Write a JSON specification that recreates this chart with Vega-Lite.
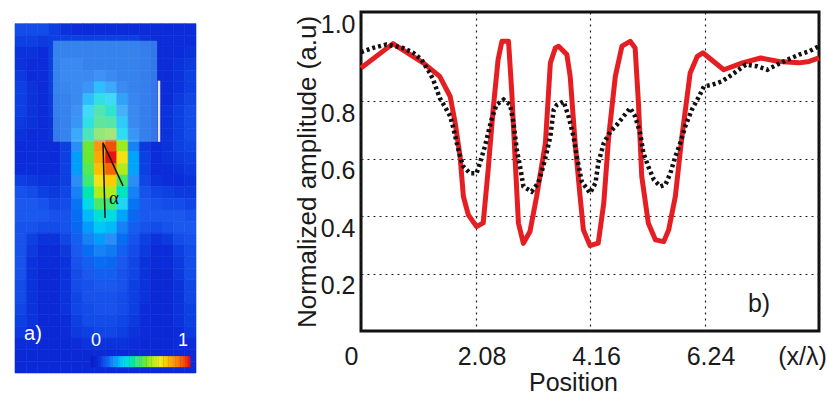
{
  "$schema": "https://vega.github.io/schema/vega-lite/v6.json",
  "background": "white",
  "padding": {"left": 14, "top": 10, "right": 0, "bottom": 0},
  "spacing": 95,
  "datasets": {
    "field": [
      {"r": 0, "c": [0,1,2,3,4,5,6,7,8,9,10,11,12,13,14,15], "v": [0.12,0.12,0.12,0.1,0.08,0.07,0.07,0.07,0.07,0.07,0.07,0.07,0.07,0.07,0.07,0.07]},
      {"r": 1, "c": [0,1,2,3,4,5,6,7,8,9,10,11,12,13,14,15], "v": [0.1,0.1,0.09,0.1,0.1,0.1,0.1,0.1,0.1,0.1,0.1,0.08,0.07,0.07,0.07,0.07]},
      {"r": 2, "c": [0,1,2,3,4,5,6,7,8,9,10,11,12,13,14,15], "v": [0.08,0.08,0.07,0.1,0.1,0.1,0.1,0.1,0.1,0.1,0.1,0.09,0.07,0.07,0.07,0.08]},
      {"r": 3, "c": [0,1,2,3,4,5,6,7,8,9,10,11,12,13,14,15], "v": [0.08,0.07,0.07,0.1,0.12,0.12,0.1,0.1,0.1,0.1,0.1,0.09,0.07,0.07,0.08,0.09]},
      {"r": 4, "c": [0,1,2,3,4,5,6,7,8,9,10,11,12,13,14,15], "v": [0.09,0.07,0.07,0.1,0.12,0.12,0.12,0.14,0.12,0.1,0.1,0.09,0.07,0.07,0.08,0.1]},
      {"r": 5, "c": [0,1,2,3,4,5,6,7,8,9,10,11,12,13,14,15], "v": [0.1,0.08,0.07,0.1,0.11,0.12,0.15,0.25,0.2,0.12,0.1,0.09,0.07,0.07,0.08,0.1]},
      {"r": 6, "c": [0,1,2,3,4,5,6,7,8,9,10,11,12,13,14,15], "v": [0.1,0.08,0.07,0.09,0.1,0.12,0.25,0.38,0.32,0.18,0.11,0.09,0.07,0.07,0.09,0.11]},
      {"r": 7, "c": [0,1,2,3,4,5,6,7,8,9,10,11,12,13,14,15], "v": [0.1,0.08,0.07,0.09,0.1,0.14,0.32,0.48,0.42,0.22,0.12,0.09,0.07,0.08,0.1,0.12]},
      {"r": 8, "c": [0,1,2,3,4,5,6,7,8,9,10,11,12,13,14,15], "v": [0.09,0.08,0.07,0.08,0.1,0.15,0.38,0.52,0.5,0.28,0.12,0.09,0.07,0.08,0.1,0.12]},
      {"r": 9, "c": [0,1,2,3,4,5,6,7,8,9,10,11,12,13,14,15], "v": [0.08,0.07,0.07,0.08,0.1,0.2,0.45,0.62,0.65,0.35,0.15,0.09,0.07,0.08,0.1,0.12]},
      {"r": 10, "c": [0,1,2,3,4,5,6,7,8,9,10,11,12,13,14,15], "v": [0.07,0.07,0.07,0.07,0.1,0.22,0.55,0.85,0.95,0.6,0.2,0.09,0.07,0.08,0.1,0.11]},
      {"r": 11, "c": [0,1,2,3,4,5,6,7,8,9,10,11,12,13,14,15], "v": [0.07,0.07,0.07,0.07,0.1,0.24,0.55,0.82,1.0,0.72,0.25,0.1,0.07,0.08,0.09,0.1]},
      {"r": 12, "c": [0,1,2,3,4,5,6,7,8,9,10,11,12,13,14,15], "v": [0.07,0.07,0.07,0.07,0.1,0.24,0.52,0.78,0.92,0.62,0.25,0.1,0.07,0.07,0.08,0.09]},
      {"r": 13, "c": [0,1,2,3,4,5,6,7,8,9,10,11,12,13,14,15], "v": [0.1,0.09,0.08,0.08,0.1,0.22,0.48,0.72,0.76,0.5,0.22,0.11,0.08,0.07,0.07,0.08]},
      {"r": 14, "c": [0,1,2,3,4,5,6,7,8,9,10,11,12,13,14,15], "v": [0.13,0.12,0.1,0.09,0.11,0.2,0.42,0.62,0.62,0.4,0.2,0.13,0.11,0.1,0.09,0.09]},
      {"r": 15, "c": [0,1,2,3,4,5,6,7,8,9,10,11,12,13,14,15], "v": [0.14,0.14,0.13,0.11,0.12,0.18,0.35,0.5,0.48,0.32,0.18,0.14,0.13,0.12,0.12,0.11]},
      {"r": 16, "c": [0,1,2,3,4,5,6,7,8,9,10,11,12,13,14,15], "v": [0.14,0.14,0.14,0.13,0.13,0.17,0.28,0.38,0.36,0.25,0.16,0.14,0.14,0.14,0.14,0.13]},
      {"r": 17, "c": [0,1,2,3,4,5,6,7,8,9,10,11,12,13,14,15], "v": [0.13,0.13,0.12,0.12,0.13,0.16,0.24,0.3,0.28,0.2,0.15,0.13,0.12,0.13,0.14,0.14]},
      {"r": 18, "c": [0,1,2,3,4,5,6,7,8,9,10,11,12,13,14,15], "v": [0.13,0.1,0.08,0.08,0.11,0.15,0.2,0.24,0.22,0.17,0.13,0.1,0.08,0.09,0.12,0.13]},
      {"r": 19, "c": [0,1,2,3,4,5,6,7,8,9,10,11,12,13,14,15], "v": [0.13,0.09,0.07,0.07,0.09,0.14,0.17,0.2,0.19,0.15,0.12,0.09,0.07,0.07,0.1,0.12]},
      {"r": 20, "c": [0,1,2,3,4,5,6,7,8,9,10,11,12,13,14,15], "v": [0.13,0.08,0.07,0.07,0.08,0.13,0.15,0.17,0.16,0.14,0.11,0.08,0.07,0.07,0.09,0.12]},
      {"r": 21, "c": [0,1,2,3,4,5,6,7,8,9,10,11,12,13,14,15], "v": [0.13,0.08,0.06,0.06,0.08,0.12,0.14,0.15,0.15,0.13,0.11,0.08,0.06,0.06,0.09,0.12]},
      {"r": 22, "c": [0,1,2,3,4,5,6,7,8,9,10,11,12,13,14,15], "v": [0.12,0.08,0.06,0.06,0.08,0.12,0.13,0.14,0.14,0.13,0.1,0.08,0.06,0.06,0.08,0.11]},
      {"r": 23, "c": [0,1,2,3,4,5,6,7,8,9,10,11,12,13,14,15], "v": [0.12,0.08,0.06,0.06,0.08,0.11,0.13,0.13,0.13,0.12,0.1,0.08,0.06,0.06,0.08,0.11]},
      {"r": 24, "c": [0,1,2,3,4,5,6,7,8,9,10,11,12,13,14,15], "v": [0.11,0.08,0.06,0.06,0.08,0.11,0.12,0.13,0.13,0.12,0.1,0.07,0.06,0.06,0.08,0.1]},
      {"r": 25, "c": [0,1,2,3,4,5,6,7,8,9,10,11,12,13,14,15], "v": [0.1,0.08,0.06,0.06,0.07,0.1,0.12,0.12,0.12,0.11,0.09,0.07,0.06,0.06,0.08,0.1]},
      {"r": 26, "c": [0,1,2,3,4,5,6,7,8,9,10,11,12,13,14,15], "v": [0.09,0.07,0.06,0.06,0.07,0.09,0.1,0.11,0.11,0.1,0.08,0.07,0.06,0.06,0.07,0.09]},
      {"r": 27, "c": [0,1,2,3,4,5,6,7,8,9,10,11,12,13,14,15], "v": [0.07,0.07,0.06,0.06,0.06,0.07,0.08,0.08,0.08,0.08,0.07,0.06,0.06,0.06,0.07,0.07]},
      {"r": 28, "c": [0,1,2,3,4,5,6,7,8,9,10,11,12,13,14,15], "v": [0.06,0.06,0.06,0.06,0.06,0.06,0.06,0.06,0.06,0.06,0.06,0.06,0.06,0.06,0.06,0.06]},
      {"r": 29, "c": [0,1,2,3,4,5,6,7,8,9,10,11,12,13,14,15], "v": [0.06,0.06,0.06,0.06,0.06,0.06,0.06,0.06,0.06,0.06,0.06,0.06,0.06,0.06,0.06,0.06]}
    ],
    "profile": [
      {"s": "sim", "x": 0, "a": 0.915}, {"s": "sim", "x": 0.58, "a": 1.0}, {"s": "sim", "x": 1.13, "a": 0.933},
      {"s": "sim", "x": 1.43, "a": 0.886}, {"s": "sim", "x": 1.62, "a": 0.816}, {"s": "sim", "x": 1.71, "a": 0.725},
      {"s": "sim", "x": 1.8, "a": 0.607}, {"s": "sim", "x": 1.86, "a": 0.468}, {"s": "sim", "x": 1.95, "a": 0.404},
      {"s": "sim", "x": 2.1, "a": 0.363}, {"s": "sim", "x": 2.22, "a": 0.376}, {"s": "sim", "x": 2.31, "a": 0.561},
      {"s": "sim", "x": 2.4, "a": 0.77}, {"s": "sim", "x": 2.49, "a": 0.944}, {"s": "sim", "x": 2.56, "a": 1.008},
      {"s": "sim", "x": 2.68, "a": 1.008}, {"s": "sim", "x": 2.74, "a": 0.828}, {"s": "sim", "x": 2.8, "a": 0.596},
      {"s": "sim", "x": 2.86, "a": 0.375}, {"s": "sim", "x": 2.95, "a": 0.305}, {"s": "sim", "x": 3.07, "a": 0.346},
      {"s": "sim", "x": 3.19, "a": 0.468}, {"s": "sim", "x": 3.35, "a": 0.654}, {"s": "sim", "x": 3.44, "a": 0.933},
      {"s": "sim", "x": 3.53, "a": 0.985}, {"s": "sim", "x": 3.59, "a": 0.991}, {"s": "sim", "x": 3.74, "a": 0.962},
      {"s": "sim", "x": 3.8, "a": 0.886}, {"s": "sim", "x": 3.89, "a": 0.654}, {"s": "sim", "x": 3.98, "a": 0.468},
      {"s": "sim", "x": 4.04, "a": 0.352}, {"s": "sim", "x": 4.16, "a": 0.297}, {"s": "sim", "x": 4.31, "a": 0.306},
      {"s": "sim", "x": 4.41, "a": 0.445}, {"s": "sim", "x": 4.5, "a": 0.677}, {"s": "sim", "x": 4.62, "a": 0.886},
      {"s": "sim", "x": 4.74, "a": 0.991}, {"s": "sim", "x": 4.89, "a": 1.008}, {"s": "sim", "x": 4.98, "a": 0.985},
      {"s": "sim", "x": 5.04, "a": 0.793}, {"s": "sim", "x": 5.1, "a": 0.538}, {"s": "sim", "x": 5.22, "a": 0.375},
      {"s": "sim", "x": 5.35, "a": 0.317}, {"s": "sim", "x": 5.5, "a": 0.311}, {"s": "sim", "x": 5.59, "a": 0.352},
      {"s": "sim", "x": 5.71, "a": 0.468}, {"s": "sim", "x": 5.83, "a": 0.677}, {"s": "sim", "x": 5.98, "a": 0.898},
      {"s": "sim", "x": 6.11, "a": 0.956}, {"s": "sim", "x": 6.21, "a": 0.968}, {"s": "sim", "x": 6.59, "a": 0.909},
      {"s": "sim", "x": 6.93, "a": 0.933}, {"s": "sim", "x": 7.26, "a": 0.95}, {"s": "sim", "x": 7.59, "a": 0.938},
      {"s": "sim", "x": 7.96, "a": 0.933}, {"s": "sim", "x": 8.14, "a": 0.938}, {"s": "sim", "x": 8.32, "a": 0.95},
      {"s": "exp", "x": 0, "a": 0.97}, {"s": "exp", "x": 0.22, "a": 0.985}, {"s": "exp", "x": 0.46, "a": 0.997},
      {"s": "exp", "x": 0.76, "a": 0.985}, {"s": "exp", "x": 0.95, "a": 0.968}, {"s": "exp", "x": 1.1, "a": 0.944},
      {"s": "exp", "x": 1.25, "a": 0.898}, {"s": "exp", "x": 1.31, "a": 0.875}, {"s": "exp", "x": 1.43, "a": 0.811},
      {"s": "exp", "x": 1.52, "a": 0.782}, {"s": "exp", "x": 1.62, "a": 0.747}, {"s": "exp", "x": 1.67, "a": 0.712},
      {"s": "exp", "x": 1.74, "a": 0.654}, {"s": "exp", "x": 1.8, "a": 0.607}, {"s": "exp", "x": 1.86, "a": 0.572},
      {"s": "exp", "x": 1.98, "a": 0.549}, {"s": "exp", "x": 2.1, "a": 0.549}, {"s": "exp", "x": 2.16, "a": 0.584},
      {"s": "exp", "x": 2.25, "a": 0.642}, {"s": "exp", "x": 2.31, "a": 0.689}, {"s": "exp", "x": 2.37, "a": 0.735},
      {"s": "exp", "x": 2.46, "a": 0.787}, {"s": "exp", "x": 2.59, "a": 0.805}, {"s": "exp", "x": 2.71, "a": 0.787},
      {"s": "exp", "x": 2.77, "a": 0.724}, {"s": "exp", "x": 2.8, "a": 0.677}, {"s": "exp", "x": 2.83, "a": 0.631},
      {"s": "exp", "x": 2.89, "a": 0.572}, {"s": "exp", "x": 2.95, "a": 0.503}, {"s": "exp", "x": 3.1, "a": 0.485},
      {"s": "exp", "x": 3.22, "a": 0.515}, {"s": "exp", "x": 3.31, "a": 0.572}, {"s": "exp", "x": 3.37, "a": 0.619},
      {"s": "exp", "x": 3.44, "a": 0.677}, {"s": "exp", "x": 3.5, "a": 0.77}, {"s": "exp", "x": 3.56, "a": 0.787},
      {"s": "exp", "x": 3.68, "a": 0.799}, {"s": "exp", "x": 3.77, "a": 0.747}, {"s": "exp", "x": 3.86, "a": 0.677},
      {"s": "exp", "x": 3.92, "a": 0.607}, {"s": "exp", "x": 4.01, "a": 0.52}, {"s": "exp", "x": 4.16, "a": 0.48},
      {"s": "exp", "x": 4.26, "a": 0.515}, {"s": "exp", "x": 4.31, "a": 0.584}, {"s": "exp", "x": 4.41, "a": 0.654},
      {"s": "exp", "x": 4.53, "a": 0.694}, {"s": "exp", "x": 4.65, "a": 0.718}, {"s": "exp", "x": 4.77, "a": 0.747},
      {"s": "exp", "x": 4.89, "a": 0.776}, {"s": "exp", "x": 4.98, "a": 0.747}, {"s": "exp", "x": 5.07, "a": 0.689},
      {"s": "exp", "x": 5.13, "a": 0.619}, {"s": "exp", "x": 5.22, "a": 0.572}, {"s": "exp", "x": 5.32, "a": 0.526},
      {"s": "exp", "x": 5.44, "a": 0.503}, {"s": "exp", "x": 5.53, "a": 0.509}, {"s": "exp", "x": 5.62, "a": 0.549},
      {"s": "exp", "x": 5.71, "a": 0.607}, {"s": "exp", "x": 5.8, "a": 0.654}, {"s": "exp", "x": 5.89, "a": 0.712},
      {"s": "exp", "x": 6.01, "a": 0.77}, {"s": "exp", "x": 6.14, "a": 0.816}, {"s": "exp", "x": 6.23, "a": 0.851},
      {"s": "exp", "x": 6.38, "a": 0.857}, {"s": "exp", "x": 6.56, "a": 0.869}, {"s": "exp", "x": 6.74, "a": 0.892},
      {"s": "exp", "x": 6.99, "a": 0.927}, {"s": "exp", "x": 7.2, "a": 0.921}, {"s": "exp", "x": 7.38, "a": 0.909},
      {"s": "exp", "x": 7.56, "a": 0.927}, {"s": "exp", "x": 7.75, "a": 0.944}, {"s": "exp", "x": 7.96, "a": 0.962},
      {"s": "exp", "x": 8.14, "a": 0.973}, {"s": "exp", "x": 8.32, "a": 0.991}
    ]
  },
  "hconcat": [
    {
      "width": 181,
      "height": 361,
      "view": {"stroke": null},
      "resolve": {"scale": {"x": "independent", "y": "independent"}},
      "layer": [
        {
          "data": {"name": "field"},
          "transform": [{"flatten": ["c", "v"]}],
          "mark": {"type": "rect", "strokeWidth": 0.6},
          "encoding": {
            "x": {"field": "c", "type": "ordinal", "axis": null,
                  "scale": {"domain": [0,1,2,3,4,5,6,7,8,9,10,11,12,13,14,15], "paddingInner": 0, "paddingOuter": 0}},
            "y": {"field": "r", "type": "ordinal", "axis": null,
                  "scale": {"domain": [-1,0,1,2,3,4,5,6,7,8,9,10,11,12,13,14,15,16,17,18,19,20,21,22,23,24,25,26,27,28,29], "paddingInner": 0, "paddingOuter": 0}},
            "color": {"field": "v", "type": "quantitative", "legend": null,
                      "scale": {"domain": [0, 0.07, 0.14, 0.22, 0.32, 0.45, 0.55, 0.7, 0.85, 1],
                                "range": ["#0a1ec8", "#0b2cd8", "#1a58ee", "#2a8ef6", "#22d4f2", "#30e890", "#6ae832", "#f2ee22", "#ff9412", "#e81212"]}},
            "stroke": {"field": "v", "type": "quantitative", "legend": null,
                       "scale": {"domain": [0, 0.07, 0.14, 0.22, 0.32, 0.45, 0.55, 0.7, 0.85, 1],
                                 "range": ["#0a1ec8", "#0b2cd8", "#1a58ee", "#2a8ef6", "#22d4f2", "#30e890", "#6ae832", "#f2ee22", "#ff9412", "#e81212"]}}
          }
        },
        {
          "layer": [
            {
              "data": {"values": [{"x0": 3.36, "x1": 12.56, "y0": 1.46, "y1": 10.15}]},
              "mark": {"type": "rect", "color": "#70e0ff", "opacity": 0.42},
              "encoding": {
                "x": {"field": "x0", "type": "quantitative", "axis": null, "scale": {"domain": [0, 16], "nice": false, "zero": false}},
                "x2": {"field": "x1"},
                "y": {"field": "y0", "type": "quantitative", "axis": null, "scale": {"domain": [-1, 30], "nice": false, "zero": false, "reverse": true}},
                "y2": {"field": "y1"}
              }
            },
            {
              "data": {"values": [{"x0": 12.73, "y0": 4.9, "y1": 10.15}]},
              "mark": {"type": "rule", "color": "#e4e4f0", "strokeWidth": 2.5},
              "encoding": {
                "x": {"field": "x0", "type": "quantitative"},
                "y": {"field": "y0", "type": "quantitative"},
                "y2": {"field": "y1"}
              }
            },
            {
              "data": {"values": [
                {"x0": 7.78, "y0": 10.23, "x1": 7.96, "y1": 16.68},
                {"x0": 7.78, "y0": 10.23, "x1": 9.55, "y1": 13.93}
              ]},
              "mark": {"type": "rule", "color": "#111111", "strokeWidth": 1.5},
              "encoding": {
                "x": {"field": "x0", "type": "quantitative"},
                "x2": {"field": "x1"},
                "y": {"field": "y0", "type": "quantitative"},
                "y2": {"field": "y1"}
              }
            },
            {
              "data": {"values": [{"x": 8.75, "y": 14.96, "t": "α"}]},
              "mark": {"type": "text", "font": "Liberation Serif", "fontSize": 19, "color": "#111111", "align": "center", "baseline": "middle"},
              "encoding": {
                "x": {"field": "x", "type": "quantitative"},
                "y": {"field": "y", "type": "quantitative"},
                "text": {"field": "t"}
              }
            },
            {
              "data": {"values": [{"x": 1.59, "y": 26.66, "t": "a)"}]},
              "mark": {"type": "text", "font": "Liberation Sans", "fontSize": 20, "color": "white", "align": "center", "baseline": "middle"},
              "encoding": {
                "x": {"field": "x", "type": "quantitative"},
                "y": {"field": "y", "type": "quantitative"},
                "text": {"field": "t"}
              }
            },
            {
              "data": {"values": [{"x": 7.16, "y": 27.26, "t": "0"}, {"x": 14.85, "y": 27.26, "t": "1"}]},
              "mark": {"type": "text", "font": "Liberation Sans", "fontSize": 18, "color": "white", "align": "center", "baseline": "middle"},
              "encoding": {
                "x": {"field": "x", "type": "quantitative"},
                "y": {"field": "y", "type": "quantitative"},
                "text": {"field": "t"}
              }
            }
          ]
        },
        {
          "data": {"values": [
            {"v": 0}, {"v": 0.025}, {"v": 0.05}, {"v": 0.075}, {"v": 0.1}, {"v": 0.125}, {"v": 0.15}, {"v": 0.175},
            {"v": 0.2}, {"v": 0.225}, {"v": 0.25}, {"v": 0.275}, {"v": 0.3}, {"v": 0.325}, {"v": 0.35}, {"v": 0.375},
            {"v": 0.4}, {"v": 0.425}, {"v": 0.45}, {"v": 0.475}, {"v": 0.5}, {"v": 0.525}, {"v": 0.55}, {"v": 0.575},
            {"v": 0.6}, {"v": 0.625}, {"v": 0.65}, {"v": 0.675}, {"v": 0.7}, {"v": 0.725}, {"v": 0.75}, {"v": 0.775},
            {"v": 0.8}, {"v": 0.825}, {"v": 0.85}, {"v": 0.875}, {"v": 0.9}, {"v": 0.925}, {"v": 0.95}, {"v": 0.975}, {"v": 1}
          ]},
          "mark": {"type": "rule", "strokeWidth": 2.7},
          "encoding": {
            "x": {"field": "v", "type": "quantitative", "axis": null, "scale": {"domain": [-0.7938, 1.0722], "nice": false, "zero": false}},
            "y": {"datum": 28.55, "type": "quantitative", "axis": null, "scale": {"domain": [-1, 30], "nice": false, "zero": false, "reverse": true}},
            "y2": {"datum": 29.5},
            "color": {"field": "v", "type": "quantitative", "legend": null}
          }
        }
      ]
    },
    {
      "width": 458,
      "height": 319,
      "view": {"stroke": "#111111", "strokeWidth": 3},
      "data": {"name": "profile"},
      "encoding": {
        "x": {
          "field": "x", "type": "quantitative",
          "scale": {"domain": [0, 8.32], "nice": false, "zero": false},
          "axis": {
            "values": [0, 2.08, 4.16, 6.24, 8.32],
            "labelExpr": "datum.value > 8 ? '(x/λ)' : datum.value == 0 ? '0' : format(datum.value, '.2f')",
            "grid": true, "gridColor": "#222222", "gridDash": [2, 4], "gridWidth": 1.2,
            "ticks": false, "domain": false,
            "labelFlush": false, "labelOverlap": false, "labelBound": false,
            "labelFont": "Liberation Sans", "labelFontSize": 25, "labelColor": "#1a1a1a",
            "labelPadding": 13,
            "labelOffset": {"condition": [{"test": "datum.value == 0", "value": -10}, {"test": "datum.value > 8", "value": -17}], "value": 6},
            "title": "Position", "titleFont": "Liberation Sans", "titleFontSize": 25, "titleFontWeight": "normal", "titleColor": "#1a1a1a",
            "titleX": 212, "titleY": 59, "titleBaseline": "alphabetic"
          }
        },
        "y": {
          "field": "a", "type": "quantitative",
          "scale": {"domain": [0, 1.11], "nice": false, "zero": false},
          "axis": {
            "values": [0.2, 0.4, 0.6, 0.8, 1.0],
            "labelExpr": "format(datum.value, '.1f')",
            "grid": true, "gridColor": "#222222", "gridDash": [2, 4], "gridWidth": 1.2,
            "gridOpacity": {"condition": {"test": "datum.value > 0.9", "value": 0}, "value": 1},
            "ticks": false, "domain": false,
            "labelFlush": false, "labelOverlap": false, "labelBound": false,
            "labelFont": "Liberation Sans", "labelFontSize": 25, "labelColor": "#1a1a1a",
            "labelPadding": 6,
            "labelOffset": {"condition": {"test": "datum.value > 0.9", "value": -19}, "value": 12},
            "title": "Normalized amplitude (a.u)", "titleFont": "Liberation Sans", "titleFontSize": 26, "titleFontWeight": "normal", "titleColor": "#1a1a1a",
            "titlePadding": 0
          }
        }
      },
      "layer": [
        {
          "transform": [{"filter": "datum.s == 'sim'"}],
          "mark": {"type": "line", "color": "#e41e22", "strokeWidth": 5, "strokeJoin": "round"}
        },
        {
          "transform": [{"filter": "datum.s == 'exp'"}],
          "mark": {"type": "line", "color": "#111111", "strokeWidth": 4.5, "strokeDash": [3, 3], "strokeCap": "butt"}
        },
        {
          "data": {"values": [{"x": 7.23, "a": 0.093, "t": "b)"}]},
          "mark": {"type": "text", "font": "Liberation Sans", "fontSize": 25, "color": "#1a1a1a", "align": "center", "baseline": "middle"},
          "encoding": {"text": {"field": "t"}}
        }
      ]
    }
  ]
}
